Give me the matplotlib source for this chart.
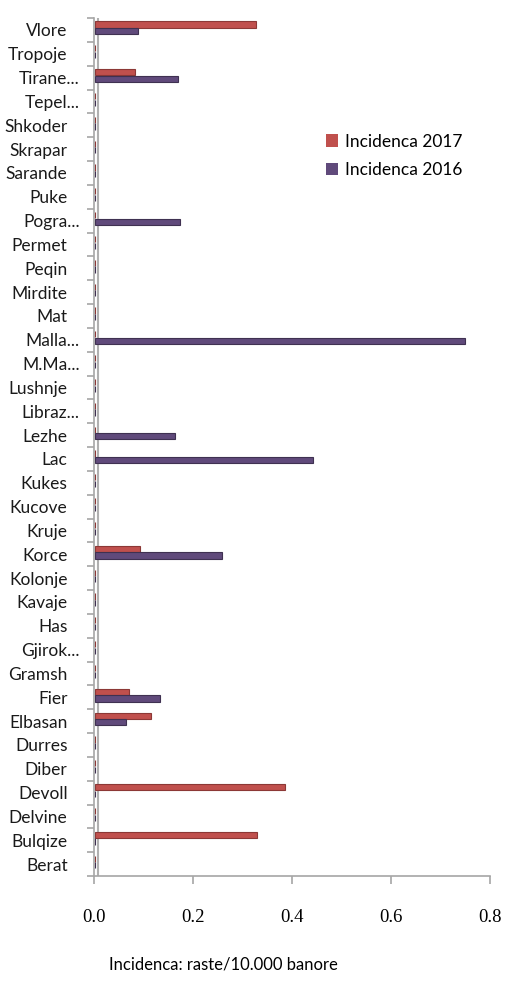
import matplotlib.pyplot as plt
import matplotlib.transforms as mtransforms
import numpy as np

# Rrethet, nga poshte lart si ne grafik
rrethet = ['Berat', 'Bulqize', 'Delvine', 'Devoll', 'Diber', 'Durres', 'Elbasan',
           'Fier', 'Gramsh', 'Gjirok...', 'Has', 'Kavaje', 'Kolonje', 'Korce',
           'Kruje', 'Kucove', 'Kukes', 'Lac', 'Lezhe', 'Libraz...', 'Lushnje',
           'M.Ma...', 'Malla...', 'Mat', 'Mirdite', 'Peqin', 'Permet', 'Pogra...',
           'Puke', 'Sarande', 'Skrapar', 'Shkoder', 'Tepel...', 'Tirane...',
           'Tropoje', 'Vlore']

inc_2017 = [0, 0.327, 0, 0.382, 0, 0, 0.113,
            0.068, 0, 0, 0, 0, 0, 0.089,
            0, 0, 0, 0, 0, 0, 0,
            0, 0, 0, 0, 0, 0, 0,
            0, 0, 0, 0, 0, 0.079,
            0, 0.325]

inc_2016 = [0, 0, 0, 0, 0, 0, 0.061,
            0.130, 0, 0, 0, 0, 0, 0.255,
            0, 0, 0, 0.440, 0.160, 0, 0,
            0, 0.746, 0, 0, 0, 0, 0.170,
            0, 0, 0, 0, 0, 0.167,
            0, 0.086]

plt.rcParams['font.family'] = ['Lato', 'DejaVu Sans']

fig = plt.figure(figsize=(5.05, 9.81), dpi=100)
ax = fig.add_axes([94 / 505, 1 - 876 / 981, 396 / 505, 858 / 981])

y = np.arange(len(rrethet))
h = 0.26
ax.barh(y + 0.23, inc_2017, height=h, left=0.003, color='#C0504D',
        edgecolor='#8C3836', linewidth=0.8, label='Incidenca 2017')
ax.barh(y - 0.05, inc_2016, height=h, left=0.003, color='#604A7B',
        edgecolor='#3F3151', linewidth=0.8, label='Incidenca 2016')

ax.set_xlim(0, 0.8)
ax.set_ylim(-0.5, len(rrethet) - 0.5)

# muri i pasem i grafikut 3D
ax.axvline(0.009, color='#B0B0B0', lw=1.5, zorder=0)

gray = '#A6A6A6'
for s in ['top', 'right']:
    ax.spines[s].set_visible(False)
ax.spines['left'].set_color(gray)
ax.spines['bottom'].set_color(gray)
ax.spines['left'].set_linewidth(1.2)
ax.spines['bottom'].set_linewidth(1.2)

ax.set_yticks(y)
ax.set_yticklabels(rrethet, fontsize=12.5, color='#1a1a1a')
ax.set_yticks(np.arange(len(rrethet) + 1) - 0.5, minor=True)
ax.tick_params(axis='y', which='major', length=0, pad=19)
ax.tick_params(axis='y', which='minor', length=5, color=gray, width=1.2)

# emrat e shkurtuar dalin pak me djathtas
shift = mtransforms.ScaledTranslation(12 / 100, 0, fig.dpi_scale_trans)
for lab in ax.get_yticklabels():
    if lab.get_text().endswith('...'):
        lab.set_transform(lab.get_transform() + shift)

ax.set_xticks([0, 0.2, 0.4, 0.6, 0.8])
ax.set_xticklabels(['0.0', '0.2', '0.4', '0.6', '0.8'],
                   fontfamily='Liberation Serif', fontsize=13.5)
ax.tick_params(axis='x', length=6, color=gray, width=1.2, pad=18)

leg = ax.legend(loc='upper left', bbox_to_anchor=(310 / 505, 1 - 118 / 981),
                bbox_transform=fig.transFigure, frameon=False, fontsize=12.5,
                handlelength=0.7, handleheight=0.7, handletextpad=0.4,
                labelspacing=0.7)
for p in leg.get_patches():
    p.set_edgecolor('none')

fig.text(223 / 505, 1 - 965 / 981, 'Incidenca: raste/10.000 banore',
         ha='center', va='center', fontsize=12)

fig.savefig('out.png', dpi=100)
